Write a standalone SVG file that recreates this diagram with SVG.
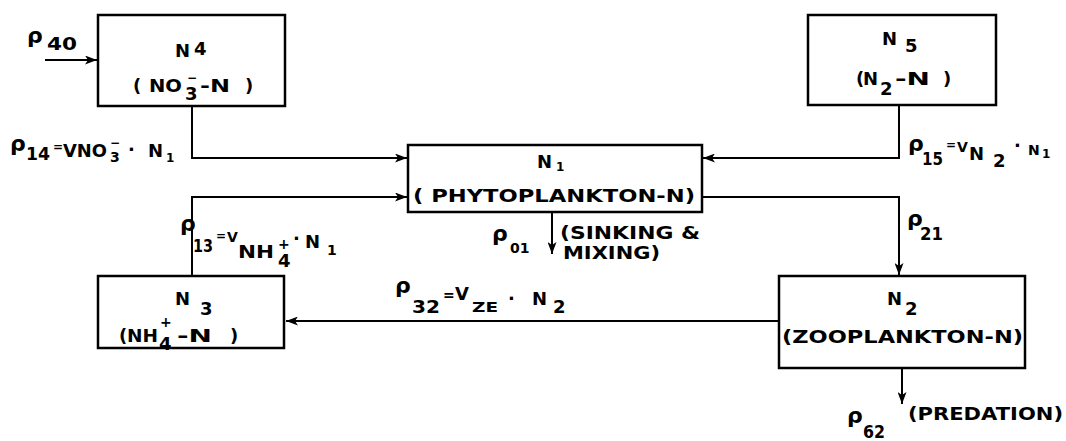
<svg xmlns="http://www.w3.org/2000/svg" width="1066" height="441" viewBox="0 0 1066 441">
<style>
text{font-family:"DejaVu Sans","Liberation Sans",sans-serif;fill:#000;font-size:18px;font-weight:bold}
.r{font-size:22px;font-weight:bold}
.s{font-size:12px}
.m{font-size:14px}
.box{fill:#fff;stroke:#000;stroke-width:2.5}
.ln{fill:none;stroke:#000;stroke-width:2}
</style>
<defs>
<marker id="ah" markerUnits="userSpaceOnUse" markerWidth="13" markerHeight="9" refX="12" refY="4.5" orient="auto">
<path d="M0,0 L12,4.5 L0,9 L3,4.5 z" fill="#000"/>
</marker>
</defs>
<rect width="1066" height="441" fill="#fff"/>
<g id="connectors">
<path class="ln" d="M45,60 H97" marker-end="url(#ah)"/>
<path class="ln" d="M192,106 V158 H407" marker-end="url(#ah)"/>
<path class="ln" d="M899,105 V158 H703" marker-end="url(#ah)"/>
<path class="ln" d="M192,276 V197 H407" marker-end="url(#ah)"/>
<path class="ln" d="M702,197 H899 V275" marker-end="url(#ah)"/>
<path class="ln" d="M552,212 V254" marker-end="url(#ah)"/>
<path class="ln" d="M779,321 H286" marker-end="url(#ah)"/>
<path class="ln" d="M902,368 V404" marker-end="url(#ah)"/>
</g>
<g id="N4">
<rect class="box" x="98" y="15" width="187" height="91"/>
<text x="175" y="57">N</text><text x="194" y="55">4</text>
<text x="133" y="92">(</text><text x="149" y="92" textLength="33" lengthAdjust="spacingAndGlyphs">NO</text><text x="185" y="100">3</text><text class="s" x="187" y="82">−</text><text x="200" y="92" textLength="30" lengthAdjust="spacingAndGlyphs">-N</text><text x="245" y="92">)</text>
</g>
<g id="N5">
<rect class="box" x="808" y="15" width="188" height="90"/>
<text x="882" y="45">N</text><text x="905" y="52">5</text>
<text x="856" y="85">(</text><text x="863" y="85">N</text><text x="880" y="95">2</text><text x="895" y="85" textLength="35" lengthAdjust="spacingAndGlyphs">-N</text><text x="943" y="85">)</text>
</g>
<g id="N1">
<rect class="box" x="408" y="145" width="294" height="67"/>
<text x="537" y="168">N</text><text class="s" x="556" y="171">1</text>
<text x="413" y="202" textLength="282" lengthAdjust="spacingAndGlyphs">( PHYTOPLANKTON-N)</text>
</g>
<g id="N3">
<rect class="box" x="98" y="276" width="186" height="72"/>
<text x="175" y="305">N</text><text x="200" y="315">3</text>
<text x="119" y="342">(</text><text x="127" y="342" textLength="31" lengthAdjust="spacingAndGlyphs">NH</text><text class="m" x="160" y="327">+</text><text x="159" y="350">4</text><text x="177" y="342" textLength="35" lengthAdjust="spacingAndGlyphs">-N</text><text x="230" y="342">)</text>
</g>
<g id="N2">
<rect class="box" x="779" y="276" width="246" height="92"/>
<text x="887" y="305">N</text><text x="905" y="315">2</text>
<text x="782" y="343" textLength="241" lengthAdjust="spacingAndGlyphs">(ZOOPLANKTON-N)</text>
</g>
<g id="labels">
<text class="r" x="27" y="43">ρ</text><text x="47" y="50" textLength="30" lengthAdjust="spacingAndGlyphs">40</text>
<text class="r" x="10" y="151">ρ</text><text x="26" y="160" textLength="24" lengthAdjust="spacingAndGlyphs">14</text><text class="s" x="53" y="151">=</text><text x="63" y="157" textLength="44" lengthAdjust="spacingAndGlyphs">VNO</text><text class="m" x="110" y="162">3</text><text class="s" x="110" y="147">−</text><text x="128" y="156">·</text><text x="148" y="157">N</text><text class="s" x="166" y="162">1</text>
<text class="r" x="180" y="231">ρ</text><text x="193" y="252" textLength="20" lengthAdjust="spacingAndGlyphs">13</text><text class="s" x="216" y="240">=</text><text class="m" x="227" y="242">V</text><text x="238" y="258" textLength="36" lengthAdjust="spacingAndGlyphs">NH</text><text class="m" x="278" y="249">+</text><text x="278" y="267">4</text><text x="293" y="245">·</text><text x="305" y="248">N</text><text class="m" x="327" y="255">1</text>
<text class="r" x="492" y="241">ρ</text><text class="m" x="510" y="253">01</text>
<text x="560" y="239" textLength="140" lengthAdjust="spacingAndGlyphs">(SINKING &amp;</text>
<text x="563" y="259" textLength="97" lengthAdjust="spacingAndGlyphs">MIXING)</text>
<text class="r" x="907" y="226">ρ</text><text x="920" y="240" textLength="23" lengthAdjust="spacingAndGlyphs">21</text>
<text class="r" x="908" y="151">ρ</text><text x="922" y="165" textLength="21" lengthAdjust="spacingAndGlyphs">15</text><text class="s" x="946" y="149">=</text><text class="m" x="957" y="152">V</text><text x="969" y="160">N</text><text x="993" y="167">2</text><text x="1014" y="152">·</text><text class="m" x="1028" y="155">N</text><text class="s" x="1042" y="158">1</text>
<text class="r" x="395" y="293">ρ</text><text x="412" y="313" textLength="28" lengthAdjust="spacingAndGlyphs">32</text><text class="m" x="443" y="300">=</text><text x="455" y="300">V</text><text class="m" x="472" y="312" textLength="26" lengthAdjust="spacingAndGlyphs">ZE</text><text x="508" y="305">·</text><text x="532" y="305">N</text><text x="553" y="313">2</text>
<text class="r" x="847" y="423">ρ</text><text x="863" y="438" textLength="22" lengthAdjust="spacingAndGlyphs">62</text><text x="908" y="420" textLength="155" lengthAdjust="spacingAndGlyphs">(PREDATION)</text>
</g>
</svg>
